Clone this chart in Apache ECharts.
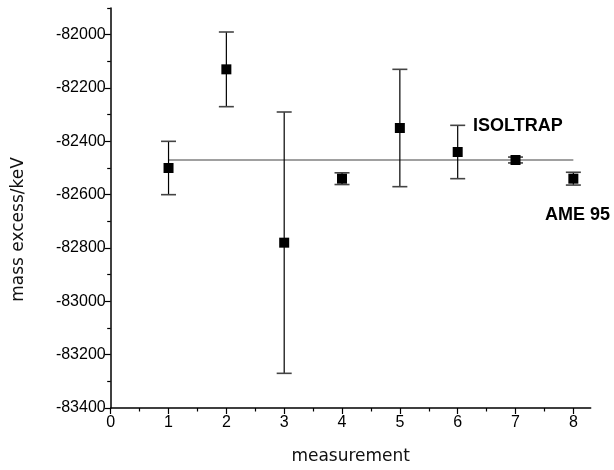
<!DOCTYPE html>
<html>
<head>
<meta charset="utf-8">
<script src="https://cdn.jsdelivr.net/npm/echarts@6/dist/echarts.min.js"></script>
<style>html,body{margin:0;padding:0;background:#fff}#c{width:614px;height:470px}</style>
</head>
<body>
<div id="c"></div>
<script>
// ---- data ----
const measurement = [1, 2, 3, 4, 5, 6, 7, 8];
const massExcess = [-82500, -82130, -82780, -82540, -82350, -82440, -82470, -82540];
const uncertainty = [100, 140, 490, 22, 220, 100, 11, 24];
const isoltrapX = [1, 8];
const isoltrapY = [-82470, -82470];
const xTickLabels = [0, 1, 2, 3, 4, 5, 6, 7, 8];
const xMinorTicks = [0.5, 1.5, 2.5, 3.5, 4.5, 5.5, 6.5, 7.5];
const yTickLabels = [-83400, -83200, -83000, -82800, -82600, -82400, -82200, -82000];
const yMinorTicks = [-83300, -83100, -82900, -82700, -82500, -82300, -82100, -81900];
const annotations = ['ISOLTRAP', 'AME 95'];

const chart = echarts.init(document.getElementById('c'), null, {renderer: 'canvas'});

const points = measurement.map((m, i) => [m, massExcess[i]]);
const errData = measurement.map((m, i) => [m, massExcess[i] - uncertainty[i], massExcess[i] + uncertainty[i]]);
const lineData = isoltrapX.map((x, i) => [x, isoltrapY[i]]);

const plain = v => String(v);

chart.setOption({
  animation: false,
  backgroundColor: '#fff',
  grid: {left: 110.7, right: 23.3, top: 8, bottom: 57.3, containLabel: false},
  xAxis: [{
    type: 'value', min: 0, max: 8.3, interval: 1,
    splitLine: {show: false},
    axisLine: {show: true, onZero: false, lineStyle: {color: '#000', width: 1.5}},
    axisTick: {show: true, length: 6, customValues: xTickLabels, lineStyle: {color: '#000', width: 1.2}},
    axisLabel: {margin: 7, customValues: xTickLabels, formatter: plain,
      fontFamily: 'Liberation Sans, Arial, sans-serif', fontSize: 16, color: '#000'},
    name: 'measurement', nameLocation: 'middle', nameGap: 40,
    nameTextStyle: {fontFamily: 'DejaVu Sans, sans-serif', fontSize: 17, color: '#111', fontWeight: 'normal'}
  }, {
    type: 'value', min: 0, max: 8.3, position: 'bottom',
    splitLine: {show: false},
    axisLine: {show: false, onZero: false},
    axisTick: {show: true, length: 3.5, customValues: xMinorTicks, lineStyle: {color: '#000', width: 1.2}},
    axisLabel: {show: false}
  }],
  yAxis: [{
    type: 'value', min: -83400, max: -81900, interval: 200,
    splitLine: {show: false},
    axisLine: {show: true, onZero: false, lineStyle: {color: '#000', width: 1.5}},
    axisTick: {show: true, length: 6, customValues: yTickLabels, lineStyle: {color: '#000', width: 1.2}},
    axisLabel: {margin: 5, customValues: yTickLabels, formatter: plain,
      fontFamily: 'Liberation Sans, Arial, sans-serif', fontSize: 16, color: '#000'},
    name: 'mass excess/keV', nameLocation: 'middle', nameGap: 84, nameRotate: 90,
    nameTextStyle: {fontFamily: 'DejaVu Sans, sans-serif', fontSize: 17, color: '#111', fontWeight: 'normal',
      padding: [0, 43, 0, 0]}
  }, {
    type: 'value', min: -83400, max: -81900, position: 'left',
    splitLine: {show: false},
    axisLine: {show: false, onZero: false},
    axisTick: {show: true, length: 3.5, customValues: yMinorTicks, lineStyle: {color: '#000', width: 1.2}},
    axisLabel: {show: false}
  }],
  series: [{
    type: 'line', data: lineData, xAxisIndex: 0, yAxisIndex: 0,
    symbol: 'none', lineStyle: {color: '#808080', width: 1.6}, z: 1
  }, {
    type: 'custom', data: errData, xAxisIndex: 0, yAxisIndex: 0,
    encode: {x: 0, y: [1, 2]}, z: 2,
    renderItem: function (params, api) {
      const x = api.value(0), lo = api.value(1), hi = api.value(2);
      const a = api.coord([x, lo]), b = api.coord([x, hi]);
      const hw = 7.5;
      return {type: 'group', children: [
        {type: 'line', shape: {x1: a[0], y1: a[1], x2: b[0], y2: b[1]}, style: {stroke: '#000', lineWidth: 1.2}},
        {type: 'line', shape: {x1: a[0] - hw, y1: a[1], x2: a[0] + hw, y2: a[1]}, style: {stroke: '#444', lineWidth: 1.6}},
        {type: 'line', shape: {x1: b[0] - hw, y1: b[1], x2: b[0] + hw, y2: b[1]}, style: {stroke: '#444', lineWidth: 1.6}}
      ]};
    }
  }, {
    type: 'scatter', data: points, xAxisIndex: 0, yAxisIndex: 0,
    symbol: 'rect', symbolSize: 10, itemStyle: {color: '#000', opacity: 1}, z: 3
  }],
  graphic: [
    {type: 'text', left: 473, top: 117, style: {text: annotations[0], font: 'bold 18px "Liberation Sans", Arial, sans-serif', fill: '#000'}},
    {type: 'text', left: 545, top: 206, style: {text: annotations[1], font: 'bold 18px "Liberation Sans", Arial, sans-serif', fill: '#000'}}
  ]
});
</script>
</body>
</html>
